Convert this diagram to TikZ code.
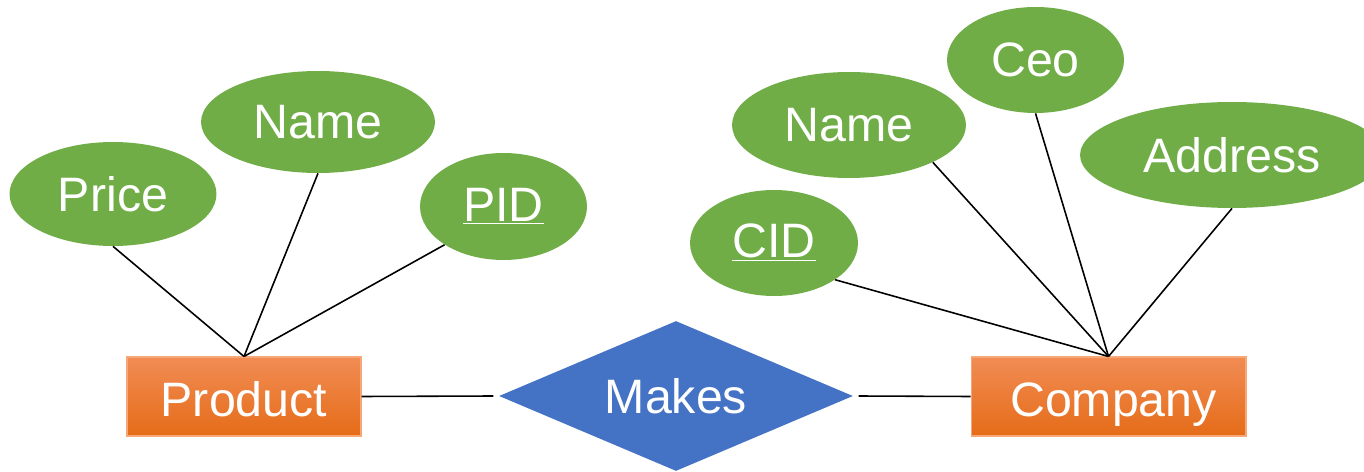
\documentclass[tikz,border=0pt]{standalone}
\usepackage{fontspec}
\setmainfont{Liberation Sans}
\usetikzlibrary{shapes.geometric}
\definecolor{attrgreen}{RGB}{112,173,71}
\definecolor{relblue}{RGB}{68,114,196}
\definecolor{enttop}{RGB}{241,140,84}
\definecolor{entbot}{RGB}{229,108,24}
\definecolor{entborder}{RGB}{246,168,120}
\newcommand{\keyattr}[1]{\underline{#1}}
\tikzset{
  attr/.style={ellipse, fill=attrgreen, draw=none, inner sep=0pt, text=white,
    font=\fontsize{27.5}{32}\selectfont},
  entity/.style={rectangle, top color=enttop, bottom color=entbot, draw=entborder,
    line width=0.6pt, inner sep=0pt, minimum height=1.58cm, text=white,
    text height=22.4pt, text depth=0pt,
    font=\fontsize{27.5}{32}\selectfont},
  rel/.style={diamond, fill=relblue, draw=none, inner sep=0pt, aspect=2.36,
    minimum width=7.08cm, minimum height=3.0cm, text=white,
    font=\fontsize{27.5}{32}\selectfont},
  conn/.style={draw=black, line width=0.9pt},
}
\begin{document}
\begin{tikzpicture}[x=0.02cm, y=-0.02cm]
\clip (0,0) rectangle (1364,472);
\fill[white] (0,0) rectangle (1364,472);
% entities and relationship
\node[entity, minimum width=4.68cm] (product) at (244,396.5) {Product};
\node[entity, minimum width=5.5cm] (company) at (1108.5,396.5) {\hspace*{0.2cm}Company};
\node[rel] (makes) at (676,396) {Makes};
% attributes of Product
\node[attr, minimum width=4.14cm, minimum height=2.08cm] (price) at (113,194) {Price};
\node[attr, minimum width=4.68cm, minimum height=2.04cm] (pname) at (318,122) {Name};
\node[attr, minimum width=3.34cm, minimum height=2.14cm] (pid) at (503.5,206.5) {\keyattr{PID}};
% attributes of Company
\node[attr, minimum width=3.36cm, minimum height=2.12cm] (cid) at (774,243) {\keyattr{CID}};
\node[attr, minimum width=4.68cm, minimum height=2.12cm] (cname) at (849,125) {Name};
\node[attr, minimum width=3.54cm, minimum height=2.12cm] (ceo) at (1035.5,60) {Ceo};
\node[attr, minimum width=6.08cm, minimum height=2.12cm] (address) at (1232,155) {Address};
% connectors
\draw[conn] (product.north) -- (price.south);
\draw[conn] (product.north) -- (pname.south);
\draw[conn] (product.north) -- (pid.-147);
\draw[conn] (company.north) -- (cid.-31);
\draw[conn] (company.north) -- (cname.-24);
\draw[conn] (company.north) -- (ceo.south);
\draw[conn] (company.north) -- (address.south);
\draw[conn] (product.east) -- ([xshift=-3]makes.west);
\draw[conn] ([xshift=3]makes.east) -- (company.west);
\end{tikzpicture}
\end{document}
